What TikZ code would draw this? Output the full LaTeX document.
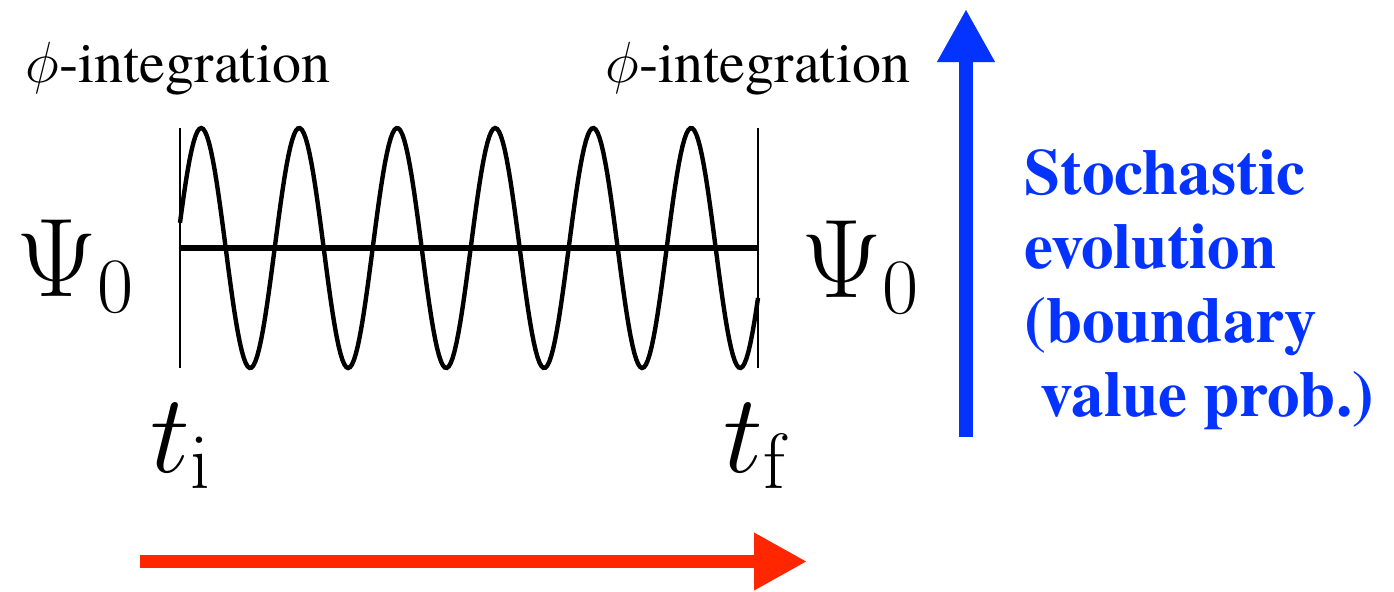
\RequirePackage{fix-cm}
\documentclass[tikz,border=0pt]{standalone}
\usepackage[no-math]{fontspec}
\IfFontExistsTF{texgyretermes-regular.otf}
  {\setmainfont{texgyretermes}[Extension=.otf,UprightFont=*-regular,
     BoldFont=*-bold,ItalicFont=*-italic,BoldItalicFont=*-bolditalic]}
  {\setmainfont{Liberation Serif}}
\usepackage{tikz}
\usetikzlibrary{positioning,arrows.meta}
\definecolor{evoblue}{RGB}{4,51,255}
\definecolor{timered}{RGB}{255,38,0}

\begin{document}
\begin{tikzpicture}[x=0.5pt,y=-0.5pt,
    wave/.style={line width=2.2pt},
    bound/.style={line width=1.2pt},
    axisline/.style={line width=3.4pt},
    phlabel/.style={inner sep=0pt,anchor=base west,font=\rmfamily\fontsize{29}{34}\selectfont},
    mathlabel/.style={inner sep=0pt,anchor=base west,font=\fontsize{56}{60}\selectfont},
    bigarrow/.style={line width=#1,-{Triangle[length=26.5pt,width=27pt]}},
    arrowshadow/.style={black,opacity=0.12,shift={(2,3)}}]
    \useasboundingbox (0,0) rectangle (1394,591);
    % boundaries of the time interval
    \coordinate (itop) at (180,128);
    \coordinate (ibot) at (180,368);
    \coordinate (ftop) at (758,128);
    \coordinate (fbot) at (758,368);
    \coordinate (imid) at (180,248);
    \coordinate (fmid) at (758,248);
    \draw[bound] (itop) -- (ibot);
    \draw[bound] (ftop) -- (fbot);
    \draw[axisline] (imid) -- (fmid);
    \draw[wave] plot[domain=180:758,samples=300] (\x,{248-120*sin(3.6735*(\x-176.7))});
    % labels
    \node[phlabel] (phileft) at (25,82) {$\phi$-integration};
    \node[phlabel] (phiright) at (605,82) {$\phi$-integration};
    \node[mathlabel] (psileft) at (16,296) {$\Psi_0$};
    \node[mathlabel] (psiright) at (801,297) {$\Psi_0$};
    \node[mathlabel] (tini) at (150,472) {$t_{\mathrm{i}}$};
    \node[mathlabel] (tfin) at (723,472) {$t_{\mathrm{f}}$};
    % arrows
    \coordinate (tstart) at (140,561.5);
    \coordinate (tend) at (807,561.5);
    \draw[bigarrow=6.5pt,arrowshadow] (tstart) -- (tend);
    \draw[bigarrow=6.5pt,timered] (tstart) -- (tend);
    \coordinate (sbot) at (966,437);
    \coordinate (stop) at (966,9);
    \draw[bigarrow=7pt,arrowshadow] (sbot) -- (stop);
    \draw[bigarrow=7pt,evoblue] (sbot) -- (stop);
    \node[anchor=north west,inner sep=0pt,align=left,text=evoblue,
      font=\rmfamily\bfseries\fontsize{32.5}{37}\selectfont] (evolabel) at (1024,149)
      {Stochastic\\evolution\\(boundary\\\hspace*{0.25em}value prob.)};
\end{tikzpicture}
\end{document}
